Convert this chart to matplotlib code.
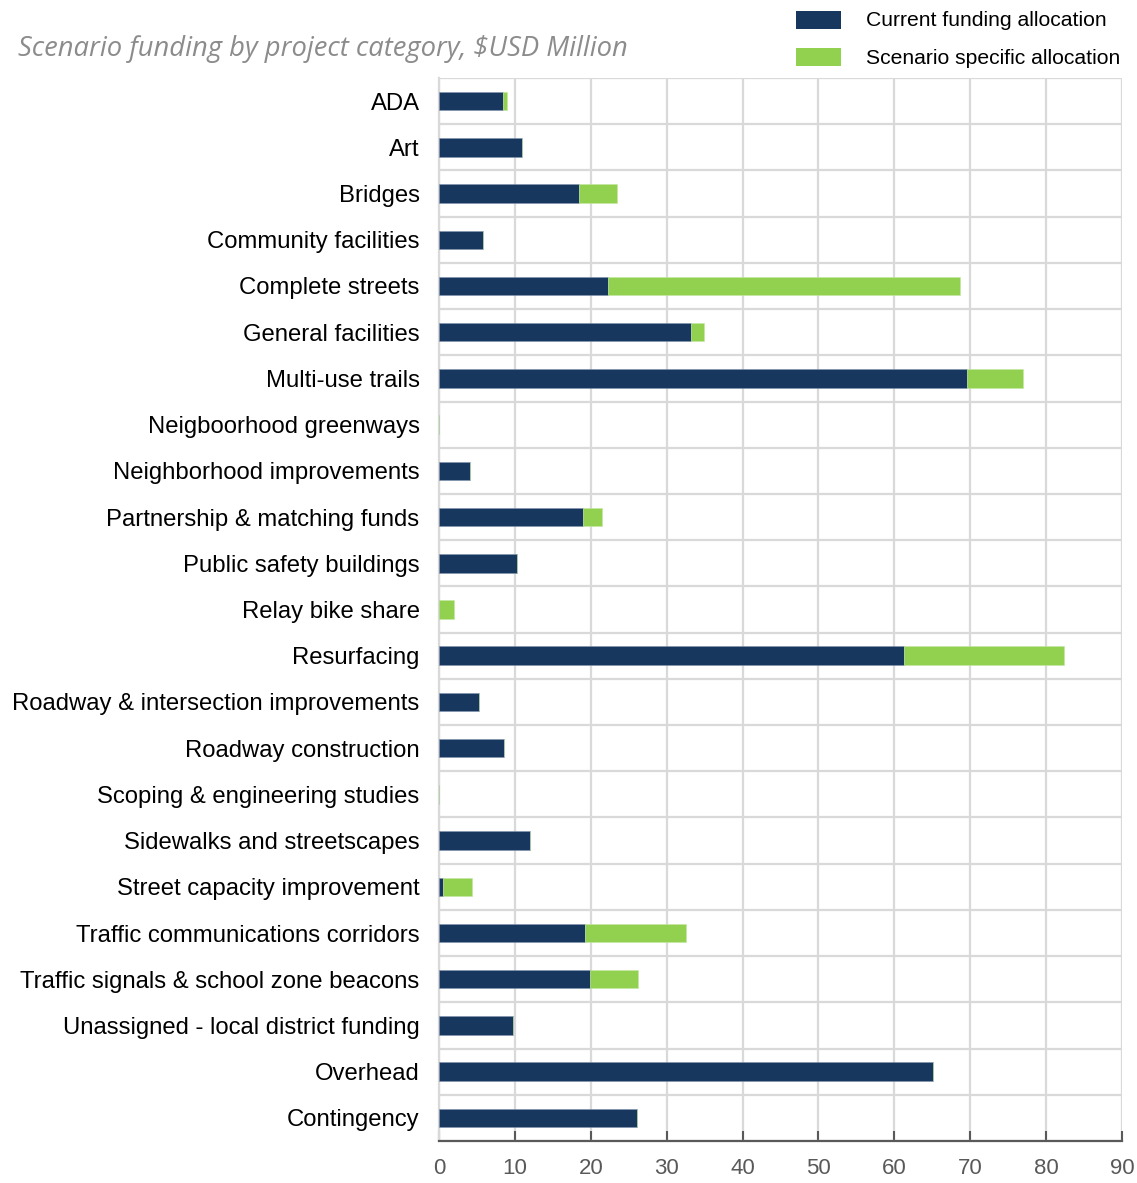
import matplotlib
matplotlib.use("Agg")
import matplotlib.pyplot as plt
from matplotlib.patches import Rectangle
import numpy as np

categories = [
    "ADA", "Art", "Bridges", "Community facilities", "Complete streets",
    "General facilities", "Multi-use trails", "Neigboorhood greenways",
    "Neighborhood improvements", "Partnership & matching funds",
    "Public safety buildings", "Relay bike share", "Resurfacing",
    "Roadway & intersection improvements", "Roadway construction",
    "Scoping & engineering studies", "Sidewalks and streetscapes",
    "Street capacity improvement", "Traffic communications corridors",
    "Traffic signals & school zone beacons",
    "Unassigned - local district funding", "Overhead", "Contingency",
]
current_funding = [8.4, 10.9, 18.4, 5.8, 22.3, 33.2, 69.6, 0.0, 4.1, 19.0,
                   10.3, 0.0, 61.3, 5.3, 8.6, 0.0, 12.0, 0.5, 19.2, 19.9,
                   9.8, 65.1, 26.1]
scenario_specific = [0.5, 0.0, 5.0, 0.0, 46.4, 1.7, 7.4, 0.0, 0.0, 2.5,
                     0.0, 2.0, 21.1, 0.0, 0.0, 0.0, 0.0, 3.9, 13.3, 6.3,
                     0.0, 0.0, 0.0]
x_ticks = [0, 10, 20, 30, 40, 50, 60, 70, 80, 90]
series_names = ["Current funding allocation", "Scenario specific allocation"]

NAVY = "#17375E"
GREEN = "#92D050"
GRID = "#D9D9D9"

W, H = 1137, 1183
fig = plt.figure(figsize=(W / 100, H / 100), dpi=100)
ax = fig.add_axes([439 / W, (H - 1141) / H, (1122 - 439) / W, (1141 - 78) / H])

y = np.arange(len(categories))
ax.barh(y, current_funding, height=0.4, color=NAVY, edgecolor="#8095b0",
        linewidth=0.4, zorder=3)
ax.barh(y, scenario_specific, left=current_funding, height=0.4, color=GREEN,
        edgecolor="#c4e8a0", linewidth=0.4, zorder=3)

ax.set_ylim(len(categories) - 0.5, -0.5)
ax.set_xlim(0, 90)
ax.set_yticks(y)
ax.set_yticklabels(categories, fontsize=17.2, color="black",
                   family="Liberation Sans")
ax.set_yticks(np.arange(-0.5, len(categories), 1.0), minor=True)
ax.tick_params(axis="y", which="both", length=0, pad=14)
ax.set_xticks(x_ticks)
ax.set_xticklabels([str(t) for t in x_ticks], fontsize=16, color="#595959",
                   family="Liberation Sans")
ax.tick_params(axis="x", direction="in", length=7, width=1.5, color="#595959",
               pad=12)

ax.grid(axis="x", which="major", color=GRID, linewidth=1.6, zorder=0)
ax.grid(axis="y", which="minor", color=GRID, linewidth=1.6, zorder=0)
ax.grid(axis="y", which="major", visible=False)
ax.set_axisbelow(True)

for side in ("top", "right"):
    ax.spines[side].set_visible(False)
ax.spines["left"].set_color(GRID)
ax.spines["left"].set_linewidth(1.6)
ax.spines["bottom"].set_color("#595959")
ax.spines["bottom"].set_linewidth(1.6)

fig.text(18 / W, 1 - 49 / H, "Scenario funding by project category, $USD Million",
         fontsize=19.7, style="italic", color="#8C8C8C", family="Open Sans",
         va="center", ha="left")

# legend swatches and labels
for i, (name, col) in enumerate(zip(series_names, [NAVY, GREEN])):
    top = 11 + i * 37
    fig.patches.append(Rectangle((796 / W, 1 - (top + 18) / H), 45 / W, 18 / H,
                                 transform=fig.transFigure, facecolor=col,
                                 edgecolor="none"))
    fig.text(866 / W, 1 - (top + 10) / H, name, fontsize=15.2,
             family="Liberation Sans", color="black", va="center", ha="left")

fig.savefig("out.png", dpi=100, facecolor="white")
